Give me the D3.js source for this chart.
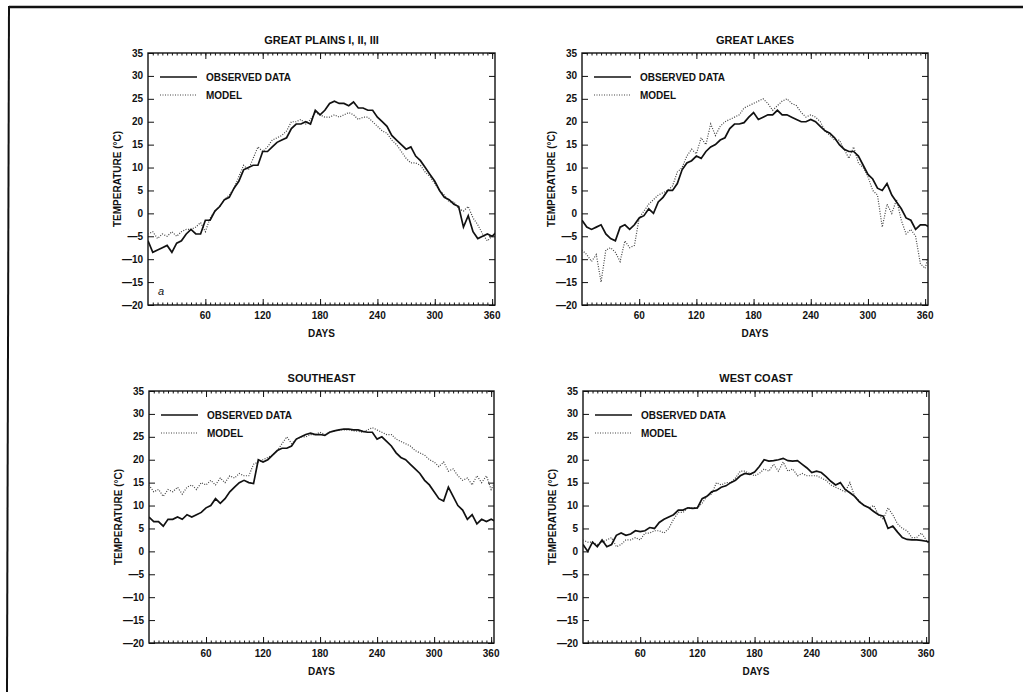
<!DOCTYPE html>
<html>
<head>
<meta charset="utf-8">
<script src="https://cdn.jsdelivr.net/npm/d3@7"></script>
<style>
  body { margin: 0; background: #fff; }
  svg { display: block; font-family: "Liberation Sans", Arial, sans-serif; }
  .tick-label { font-size: 10px; font-weight: bold; fill: #111; }
  .title { font-size: 11px; font-weight: bold; fill: #111; }
  .legend { font-size: 10px; font-weight: bold; fill: #111; }
</style>
</head>
<body>
<svg id="chart" width="1023" height="692"></svg>
<script>
// days sampled every 5 days
var days = d3.range(0, 370, 5);
var yTicks = [35, 30, 25, 20, 15, 10, 5, 0, -5, -10, -15, -20];
var xTicks = [60, 120, 180, 240, 300, 360];
var titles = ["GREAT PLAINS I, II, III", "GREAT LAKES", "SOUTHEAST", "WEST COAST"];
var legendLabels = ["OBSERVED DATA", "MODEL"];

var plainsObserved = [-6, -8.5, -8, -7.5, -7, -8.5, -6.5, -6, -4.5, -3.5, -4.5, -4.5, -1.5, -1.5, 0.5, 1.5, 3, 3.5, 5.5, 7,
  9.5, 10, 10.5, 10.5, 13.5, 13.5, 14.5, 15.5, 16, 16.5, 18.5, 19.5, 19.5, 20, 19.5, 22.5, 21.5, 22.5, 24, 24.5,
  24, 24, 23.5, 24.3, 23, 23, 22.5, 22.5, 21, 20, 19, 17, 16, 15, 14, 14.5, 12.5, 11.5, 10, 8.5,
  7, 5, 3.5, 3, 2, 1.5, -3, -0.5, -4, -5.5, -5, -4.5, -5, -4];
var plainsModel = [-4.5, -4, -5.5, -4.5, -5, -4, -5, -4, -3.5, -3.5, -3, -2, -4, -1, 0.5, 1.5, 3, 4, 5.5, 8,
  10.5, 9.5, 12, 14.5, 13.5, 14.5, 16, 16.5, 17, 18, 20, 20, 20.5, 19.5, 20.5, 22, 21.5, 21, 21, 21.5,
  21, 21.5, 22, 21.5, 20.5, 21, 21, 20, 19, 18, 17.5, 16, 15, 13.5, 12, 11, 11, 10.5, 9, 8,
  6.5, 5, 4, 2.5, 2.5, 1, 0.5, 1.5, -1, -2.5, -4.5, -6, -5, -5.5];

var lakesObserved = [-1.5, -3, -3.5, -3, -2.5, -4.5, -5.5, -6, -3, -2.5, -3.5, -2.5, -1, -0.5, 1, 0, 2.5, 3.5, 5, 5,
  6.5, 9.5, 11, 11.5, 12.5, 12, 13.5, 14.5, 15, 16, 16.5, 18.5, 19.5, 19.5, 19.8, 21, 22, 20.5, 21, 21.5,
  21.5, 22.5, 21.5, 21.5, 21, 20.5, 20, 20, 20.5, 20, 19, 18, 17.5, 16.5, 15, 14, 13.5, 13.5, 12.5, 10.5,
  8.5, 7.5, 5.5, 5, 6.5, 4, 2.5, 1, -1, -1.5, -3.5, -2.5, -2.5, -3];
var lakesModel = [-8, -9, -10.5, -9, -15, -8, -7.5, -8.5, -10.5, -6, -7.5, -7, -1, 0.5, 2, 3, 4, 4.5, 5, 6,
  9, 10, 12.5, 14, 13, 16.5, 15, 19.5, 17, 19, 20, 20.5, 21, 21.5, 23, 23.5, 24, 24.5, 25, 24,
  22.5, 23.5, 24.5, 25, 24, 23.5, 22, 21, 21.5, 21, 20, 18, 17, 16, 16, 14, 12, 14.5, 11, 10,
  8, 5, 4, -3, 2, 0, 3, -1.5, -4.5, -3.5, -5, -11, -12, -8];

var southeastObserved = [7.5, 6.5, 6.5, 5.5, 7, 7, 7.5, 7, 8, 7.5, 8, 8.5, 9.5, 10, 11.5, 10.5, 11.5, 13, 14, 15,
  15.5, 15, 14.8, 20, 19.5, 20, 21, 22, 22.5, 22.5, 23, 24.5, 25, 25.5, 25.8, 25.5, 25.5, 25.3, 26, 26.3,
  26.5, 26.7, 26.7, 26.5, 26.5, 26.2, 26, 26, 24.5, 25, 24, 23, 21.5, 20.5, 20, 19, 18, 17, 15.5, 14.5,
  13, 11.5, 11, 14, 12, 10, 9, 7, 8, 6, 7, 6.5, 7, 6.5];
var southeastModel = [14.5, 13, 13.5, 12, 13.5, 13, 14, 12.5, 14, 14.5, 13.5, 15, 14.5, 15.5, 14.5, 16, 15, 16.5, 16, 17,
  16.5, 16.5, 19, 19.5, 20, 20.5, 21, 22, 23.5, 25, 23.5, 24.5, 25, 25, 25.5, 25.5, 26, 25.5, 26, 26.3,
  26.5, 26.5, 26.5, 26.3, 26.2, 26, 26.5, 27, 26.5, 26, 25.5, 25.5, 24.5, 24, 23.5, 23, 22, 21.5, 21, 20,
  19.5, 18.5, 19.5, 17.5, 18, 16.5, 15.5, 16, 14.5, 16.5, 15, 16.5, 13.5, 15.5];

var westObserved = [1.5, 0, 2, 1, 2.5, 1, 1.5, 3.5, 4, 3.5, 3.8, 4.5, 4.3, 4.5, 5.2, 5, 6.3, 7, 7.5, 8,
  9, 9, 9.5, 9.4, 9.5, 11.5, 12, 13, 13.3, 14, 14.3, 15, 15.5, 16.5, 17, 16.8, 17.3, 18.5, 20, 19.7,
  19.8, 20, 20.3, 19.8, 19.7, 19.8, 19, 18.2, 17.2, 17.5, 17.2, 16.3, 15.3, 14.5, 15, 13.5, 12.8, 12, 10.8, 10,
  9.5, 8.7, 8, 7.7, 5, 5.5, 4.2, 3, 2.6, 2.5, 2.5, 2.4, 2.2, 2];
var westModel = [2.5, 2, 2, 1.5, 2, 2.5, 3, 1, 1.5, 2.5, 2.5, 3, 2.5, 4, 4, 4.5, 4.5, 4, 5, 7,
  8.5, 8.5, 9.5, 9.5, 9.5, 10.5, 12, 12.5, 15, 14.5, 15, 15, 16, 17.5, 17.5, 17, 16.5, 17, 18, 17.5,
  19, 17.5, 19.5, 17.5, 18, 16.5, 17, 16.5, 16.5, 16.5, 16, 15.5, 14.5, 14, 13.5, 13, 15, 12, 11, 10,
  9.5, 10, 8, 7, 9.5, 8, 6, 5, 4.5, 3, 3, 4, 2.5, 1];

var observedSeries = [plainsObserved, lakesObserved, southeastObserved, westObserved];
var modelSeries = [plainsModel, lakesModel, southeastModel, westModel];

var svg = d3.select("#chart");

// page frame
svg.append("line").attr("x1", 9).attr("y1", 7).attr("x2", 1023).attr("y2", 7)
  .attr("stroke", "#111").attr("stroke-width", 2.5);
svg.append("line").attr("x1", 9).attr("y1", 6).attr("x2", 7).attr("y2", 692)
  .attr("stroke", "#111").attr("stroke-width", 2);

var panels = [
  {left: 148, right: 495, top: 53, bottom: 305},
  {left: 582, right: 928, top: 53, bottom: 305},
  {left: 149, right: 494, top: 391, bottom: 643},
  {left: 583, right: 929, top: 391, bottom: 643}
];

panels.forEach(function(p, i){
  var x = d3.scaleLinear().domain([0, 363]).range([p.left, p.right]);
  var y = d3.scaleLinear().domain([-20, 35]).range([p.bottom, p.top]);
  var g = svg.append("g");

  g.append("clipPath").attr("id", "clip" + i)
    .append("rect").attr("x", p.left).attr("y", p.top)
    .attr("width", p.right - p.left).attr("height", p.bottom - p.top);

  // minor x ticks every 5 days, major every 60, top and bottom, inward
  var minor = d3.range(5, 363, 5);
  var xb = d3.axisBottom(x).tickValues(minor).tickSize(-2.5).tickFormat("");
  g.append("g").attr("transform", "translate(0," + p.bottom + ")").call(xb);
  var xt = d3.axisTop(x).tickValues(minor).tickSize(-2.5).tickFormat("");
  g.append("g").attr("transform", "translate(0," + p.top + ")").call(xt);
  g.append("g").attr("transform", "translate(0," + p.bottom + ")")
    .call(d3.axisBottom(x).tickValues(xTicks).tickSize(-6).tickFormat(""));
  g.append("g").attr("transform", "translate(0," + p.top + ")")
    .call(d3.axisTop(x).tickValues(xTicks).tickSize(-6).tickFormat(""));

  // y ticks left and right, inward
  g.append("g").attr("transform", "translate(" + p.left + ",0)")
    .call(d3.axisLeft(y).tickValues(yTicks).tickSize(-6).tickFormat(""));
  g.append("g").attr("transform", "translate(" + p.right + ",0)")
    .call(d3.axisRight(y).tickValues(yTicks).tickSize(-6).tickFormat(""));

  g.selectAll(".domain").remove();
  g.selectAll(".tick line").attr("stroke", "#111").attr("stroke-width", 1);

  g.append("rect").attr("x", p.left).attr("y", p.top)
    .attr("width", p.right - p.left).attr("height", p.bottom - p.top)
    .attr("fill", "none").attr("stroke", "#111").attr("stroke-width", 1.4);

  // tick labels
  g.selectAll(".ylab").data(yTicks).enter().append("text")
    .attr("class", "tick-label")
    .attr("x", p.left - 5).attr("y", function(d){ return y(d) + 3.5; })
    .attr("text-anchor", "end")
    .text(function(d){ return d < 0 ? "\u2014" + Math.abs(d) : d; });
  g.selectAll(".xlab").data(xTicks).enter().append("text")
    .attr("class", "tick-label")
    .attr("x", function(d){ return x(d); }).attr("y", p.bottom + 14)
    .attr("text-anchor", "middle")
    .text(function(d){ return d; });

  g.append("text").attr("class", "tick-label")
    .attr("x", (p.left + p.right) / 2).attr("y", p.bottom + 32)
    .attr("text-anchor", "middle").text("DAYS");
  g.append("text").attr("class", "tick-label")
    .attr("transform", "translate(" + (p.left - 27) + "," + ((p.top + p.bottom) / 2) + ") rotate(-90)")
    .attr("text-anchor", "middle").text("TEMPERATURE (\u00b0C)");
  g.append("text").attr("class", "title")
    .attr("x", (p.left + p.right) / 2).attr("y", p.top - 9)
    .attr("text-anchor", "middle").text(titles[i]);

  // legend
  var ly = [p.top + 24, p.top + 42];
  g.append("line").attr("x1", p.left + 12).attr("x2", p.left + 49)
    .attr("y1", ly[0]).attr("y2", ly[0]).attr("stroke", "#111").attr("stroke-width", 1.7);
  g.append("line").attr("x1", p.left + 12).attr("x2", p.left + 49)
    .attr("y1", ly[1]).attr("y2", ly[1]).attr("stroke", "#444")
    .attr("stroke-width", 1.1).attr("stroke-dasharray", "1,1.5");
  legendLabels.forEach(function(t, k){
    g.append("text").attr("class", "legend")
      .attr("x", p.left + 58).attr("y", ly[k] + 4).text(t);
  });

  var line = d3.line()
    .x(function(d, k){ return x(days[k]); })
    .y(function(d){ return y(d); });

  var lines = g.append("g").attr("clip-path", "url(#clip" + i + ")");
  lines.append("path").datum(modelSeries[i])
    .attr("d", line).attr("fill", "none")
    .attr("stroke", "#444").attr("stroke-width", 1.2)
    .attr("stroke-dasharray", "1,1.5");
  lines.append("path").datum(observedSeries[i])
    .attr("d", line).attr("fill", "none")
    .attr("stroke", "#111").attr("stroke-width", 1.7);

  if (i === 0) {
    g.append("text").attr("x", p.left + 10).attr("y", p.bottom - 10)
      .attr("font-size", 11).attr("font-style", "italic").attr("fill", "#111").text("a");
  }
});
</script>
</body>
</html>
